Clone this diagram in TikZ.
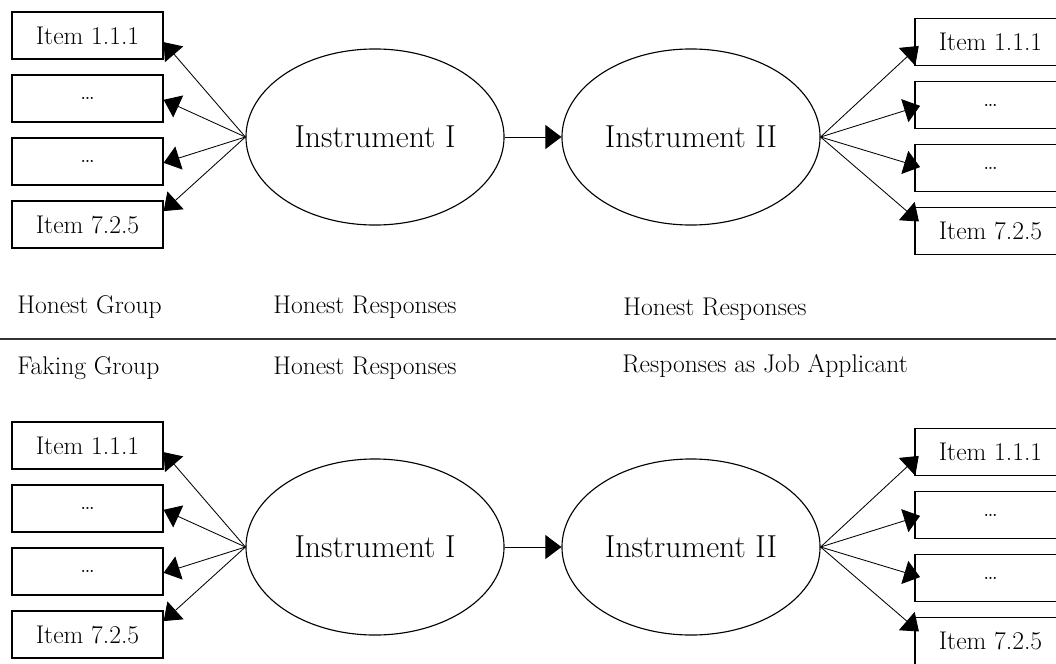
\documentclass[tikz,border=0pt]{standalone}
\usetikzlibrary{shapes.geometric,arrows.meta}

\begin{document}
\begin{tikzpicture}[x=0.025cm, y=-0.025cm,
    item/.style={draw, line width=0.9pt, minimum width=3.775cm,
        minimum height=1.175cm, font=\fontsize{18.2}{22}\selectfont},
    instr/.style={ellipse, draw, line width=0.8pt, minimum width=6.45cm,
        minimum height=4.4cm, font=\fontsize{22.6}{27}\selectfont},
    link/.style={-{Triangle[length=0.4cm,width=0.6cm]}, line width=0.6pt},
    grp/.style={anchor=base west, inner sep=0pt, font=\fontsize{18.2}{22}\selectfont}]

    \useasboundingbox (0,0) rectangle (1056,663);
    \clip (0,0) rectangle (1056,663);

    % upper block: honest group, lower block: faking group
    \foreach \g/\dy in {h/0, f/410} {
        \node[instr] (\g-i1) at (375,137+\dy) {Instrument I};
        \node[instr] (\g-i2) at (691,137+\dy) {Instrument II};

        \foreach \n/\t in {1/Item 1.1.1, 2/\dots, 3/\dots, 4/Item 7.2.5} {
            \node[item] (\g-l\n) at (87.5,-27.5+63*\n+\dy) {\t};
            \node[item] (\g-r\n) at (990.5,-21+63*\n+\dy) {\t};
        }

        \foreach \n/\a/\b in {1/-5/186, 2/-1/182, 3/-1/178, 4/10/170} {
            \draw[link] (\g-i1.west) -- (\g-l\n.\a);
            \draw[link, shorten >=-0.15cm] (\g-i2.east) -- (\g-r\n.\b);
        }

        \draw[link] (\g-i1) -- (\g-i2);
    }

    \node[grp] (hgrp) at (17,313) {Honest Group};
    \node[grp] (hresp1) at (273,313) {Honest Responses};
    \node[grp] (hresp2) at (623,315) {Honest Responses};

    \coordinate (ruleL) at (0,339);
    \coordinate (ruleR) at (1056,339);
    \draw[line width=1.1pt, black!80] (ruleL) -- (ruleR);

    \node[grp] (fgrp) at (17,374) {Faking Group};
    \node[grp] (fresp1) at (273,374) {Honest Responses};
    \node[grp] (fresp2) at (622,372) {Responses as Job Applicant};
\end{tikzpicture}
\end{document}
